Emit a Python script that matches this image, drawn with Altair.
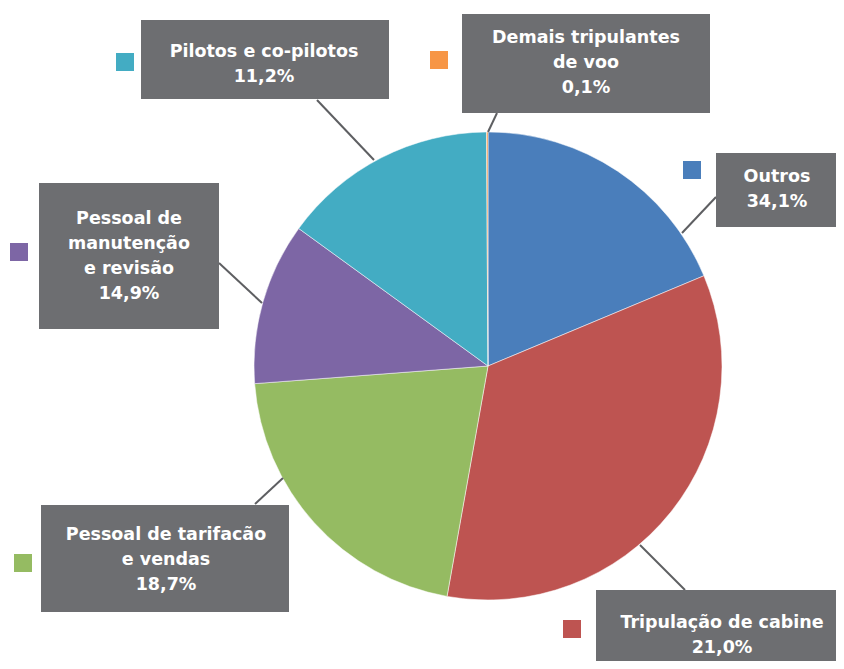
import altair as alt
import pandas as pd

# ---- data ----
categories = [
    "Outros",
    "Tripulação de cabine",
    "Pessoal de tarifacão e vendas",
    "Pessoal de manutenção e revisão",
    "Pilotos e co-pilotos",
    "Demais tripulantes de voo",
]
slice_values = [18.7, 34.1, 21.0, 11.2, 14.9, 0.1]
label_lines = [
    ["Outros", "34,1%"],
    ["Tripulação de cabine", "21,0%"],
    ["Pessoal de tarifacão", "e vendas", "18,7%"],
    ["Pessoal de", "manutenção", "e revisão", "14,9%"],
    ["Pilotos e co-pilotos", "11,2%"],
    ["Demais tripulantes", "de voo", "0,1%"],
]
colors = ["#4a7ebb", "#be5451", "#95bb62", "#7d66a5", "#43acc3", "#f79646"]

# ---- layout (page pixel coordinates) ----
OFF = 8
box_x1 = [716, 596, 41, 39, 141, 462]
box_y1 = [153, 590, 505, 183, 20, 14]
box_x2 = [841, 844, 289, 219, 389, 710]
box_y2 = [227, 669, 612, 329, 99, 113]
text_x = [777, 722, 166, 129, 264, 586]
text_y = [177, 623, 535, 219, 52, 38]   # middle of first line
sq_x = [683, 563, 14, 10, 116, 430]
sq_y = [161, 620, 554, 243, 53, 51]
ln_x1 = [716, 685, 255, 219, 317, 497]
ln_y1 = [197, 590, 504, 263, 100, 113]
ln_x2 = [682, 640, 283, 262, 374, 488]
ln_y2 = [233, 545, 478, 303, 160, 132]
CX, CY, R = 488, 366, 234
SQ = 18

W, H = 828, 653

pie_df = pd.DataFrame({"cat": categories, "value": slice_values, "idx": list(range(len(categories)))})
ann = pd.DataFrame({
    "cat": categories,
    "bx1": [v - OFF for v in box_x1], "by1": [v - OFF for v in box_y1],
    "bx2": [v - OFF for v in box_x2], "by2": [v - OFF for v in box_y2],
    "tx": [v - OFF for v in text_x], "ty": [v - OFF for v in text_y],
    "sx1": [v - OFF for v in sq_x], "sy1": [v - OFF for v in sq_y],
    "sx2": [v - OFF + SQ for v in sq_x], "sy2": [v - OFF + SQ for v in sq_y],
    "lx1": [v - OFF for v in ln_x1], "ly1": [v - OFF for v in ln_y1],
    "lx2": [v - OFF for v in ln_x2], "ly2": [v - OFF for v in ln_y2],
    "lines": label_lines,
})

color_scale = alt.Scale(domain=categories, range=colors)

pie = alt.Chart(pie_df).mark_arc(outerRadius=R, stroke="white", strokeWidth=0.5).encode(
    theta=alt.Theta("value:Q", stack=True),
    order=alt.Order("idx:Q"),
    color=alt.Color("cat:N", scale=color_scale, legend=None),
    x=alt.value(CX - OFF),
    y=alt.value(CY - OFF),
)

base = alt.Chart(ann)

leaders = base.mark_rule(color="#5e5f62", strokeWidth=2).encode(
    x=alt.X("lx1:Q", scale=None, axis=None), y=alt.Y("ly1:Q", scale=None, axis=None),
    x2="lx2:Q", y2="ly2:Q",
)

boxes = base.mark_rect(color="#6d6e71").encode(
    x=alt.X("bx1:Q", scale=None, axis=None), y=alt.Y("by1:Q", scale=None, axis=None),
    x2="bx2:Q", y2="by2:Q",
)

squares = base.mark_rect().encode(
    x=alt.X("sx1:Q", scale=None, axis=None), y=alt.Y("sy1:Q", scale=None, axis=None),
    x2="sx2:Q", y2="sy2:Q",
    color=alt.Color("cat:N", scale=color_scale, legend=None),
)

texts = base.mark_text(
    font="DejaVu Sans", fontWeight="bold", fontSize=17.5, color="white",
    align="center", baseline="middle", lineHeight=25,
).encode(
    x=alt.X("tx:Q", scale=None, axis=None), y=alt.Y("ty:Q", scale=None, axis=None),
    text="lines",
)

chart = alt.layer(pie, leaders, boxes, squares, texts).properties(
    width=W, height=H, padding=0, autosize=alt.AutoSizeParams(type="none"),
    background="white",
).configure_view(strokeWidth=0)

chart.save("out.html", embed_options={"renderer": "svg", "actions": False})
